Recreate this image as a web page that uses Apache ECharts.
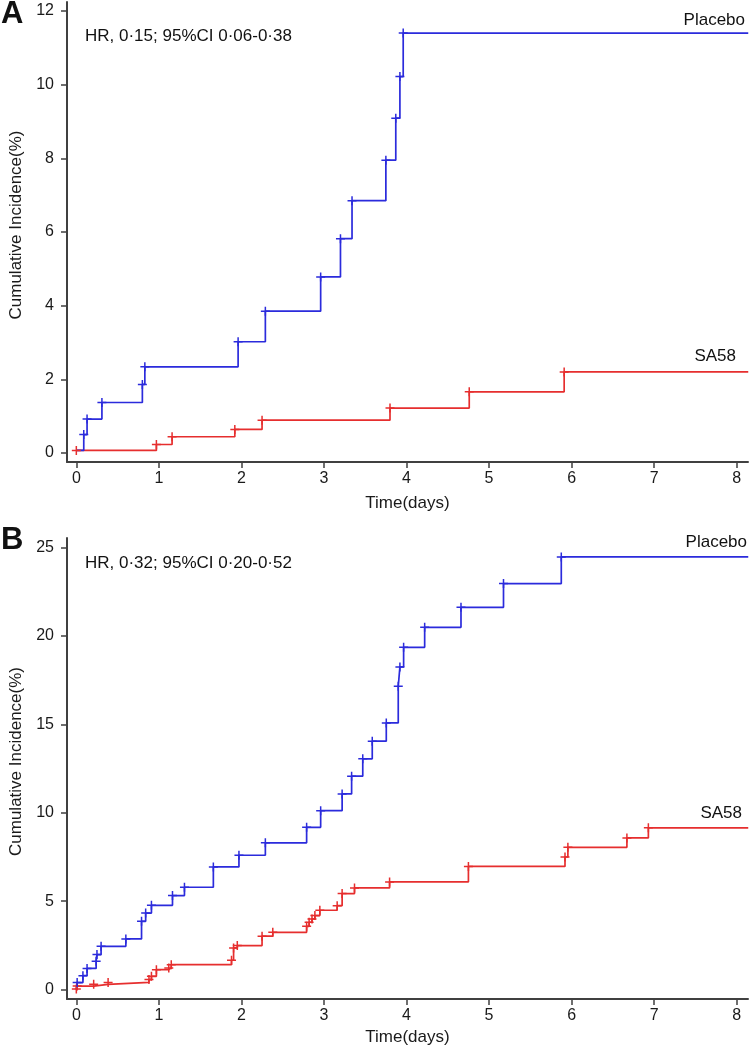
<!DOCTYPE html>
<html>
<head>
<meta charset="utf-8">
<script src="https://cdn.jsdelivr.net/npm/echarts@6/dist/echarts.min.js"></script>
<style>
  html, body { margin: 0; padding: 0; background: #fff; }
  #chart { width: 750px; height: 1047px; }
</style>
</head>
<body>
<div id="chart"></div>
<script>
// tick labels
const xTicks = [0, 1, 2, 3, 4, 5, 6, 7, 8];
const yTicksA = [0, 2, 4, 6, 8, 10, 12];
const yTicksB = [0, 5, 10, 15, 20, 25];

// panel A, [time(days), cumulative incidence %]
const placeboA = [[0, 0.07], [0.09, 0.5], [0.13, 0.92], [0.31, 1.37], [0.8, 1.86], [0.83, 2.34], [1.96, 3.02], [2.29, 3.85], [2.96, 4.78], [3.2, 5.82], [3.34, 6.85], [3.75, 7.95], [3.87, 9.09], [3.92, 10.22], [3.96, 11.4], [8.14, 11.4]];
const sa58A = [[0, 0.07], [0.97, 0.23], [1.16, 0.44], [1.92, 0.64], [2.25, 0.89], [3.8, 1.22], [4.76, 1.66], [5.91, 2.2], [8.14, 2.2]];

// panel B
const placeboB = [[0, 0], [0.01, 0.4], [0.08, 0.79], [0.13, 1.2], [0.24, 1.6], [0.25, 1.98], [0.3, 2.45], [0.6, 2.87], [0.79, 3.86], [0.84, 4.33], [0.91, 4.77], [1.165, 5.32], [1.31, 5.79], [1.66, 6.94], [1.97, 7.6], [2.29, 8.3], [2.79, 9.18], [2.96, 10.12], [3.22, 11.07], [3.335, 12.07], [3.47, 13.05], [3.585, 14.05], [3.755, 15.08], [3.9, 17.16], [3.92, 18.25], [3.965, 19.36], [4.22, 20.49], [4.66, 21.62], [5.175, 22.96], [5.875, 24.47], [8.14, 24.47]];
const sa58B = [[0, 0.04], [0.01, 0.2], [0.21, 0.3], [0.385, 0.41], [0.88, 0.57], [0.91, 0.75], [0.97, 1.13], [1.12, 1.23], [1.15, 1.41], [1.88, 1.66], [1.905, 2.36], [1.95, 2.49], [2.25, 3.02], [2.38, 3.24], [2.79, 3.58], [2.82, 3.81], [2.855, 4.0], [2.89, 4.19], [2.95, 4.49], [3.16, 4.75], [3.22, 5.43], [3.37, 5.75], [3.795, 6.09], [4.75, 6.97], [5.92, 7.5], [5.955, 8.05], [6.67, 8.58], [6.93, 9.15], [8.14, 9.15]];

const BLUE = '#2b2bdc';
const RED = '#e62e2e';
const AXIS = '#404040';
const FONT = '"Liberation Sans", Arial, sans-serif';
const PLUS = 'path://M5,0L5,10M0,5L10,5';

function marks(data, noFirst) {
  return data.map(function (p, i) {
    if (i === data.length - 1 || (noFirst && i === 0)) {
      return { value: p, symbol: 'none' };
    }
    return p;
  });
}

function kmSeries(data, color, idx, noFirst) {
  return {
    type: 'line',
    step: 'end',
    xAxisIndex: idx,
    yAxisIndex: idx,
    data: marks(data, noFirst),
    showSymbol: true,
    symbol: PLUS,
    symbolSize: 9,
    lineStyle: { color: color, width: 1.7 },
    itemStyle: { color: 'transparent', borderColor: color, borderWidth: 1.5 },
    emphasis: { disabled: true }
  };
}

function xAxisCfg(idx, gap) {
  return {
    type: 'value',
    gridIndex: idx,
    min: -0.113,
    max: 8.137,
    name: 'Time(days)',
    nameLocation: 'middle',
    nameGap: gap,
    nameTextStyle: { fontFamily: FONT, fontSize: 17, color: '#1a1a1a' },
    splitLine: { show: false },
    axisLine: { onZero: false, lineStyle: { color: AXIS, width: 2 } },
    axisTick: { length: 6, customValues: xTicks, lineStyle: { color: AXIS, width: 1.5 } },
    axisLabel: { customValues: xTicks, margin: 9, fontFamily: FONT, fontSize: 16, color: '#1a1a1a' }
  };
}

function yAxisCfg(idx, min, max, ticks) {
  return {
    type: 'value',
    gridIndex: idx,
    min: min,
    max: max,
    name: 'Cumulative Incidence(%)',
    nameLocation: 'middle',
    nameGap: 40,
    nameTextStyle: { fontFamily: FONT, fontSize: 17, color: '#1a1a1a', padding: [0, 0, 0, 14] },
    splitLine: { show: false },
    axisLine: { show: true, onZero: false, lineStyle: { color: AXIS, width: 2 } },
    axisTick: { show: true, length: 6, customValues: ticks, lineStyle: { color: AXIS, width: 1.5 } },
    axisLabel: { customValues: ticks, margin: 13, fontFamily: FONT, fontSize: 16, color: '#1a1a1a' }
  };
}

function label(text, pos, size, bold) {
  return Object.assign({
    type: 'text',
    style: {
      text: text,
      font: (bold ? 'bold ' : '') + size + 'px ' + FONT,
      fill: '#111'
    }
  }, pos);
}

var chart = echarts.init(document.getElementById('chart'));
chart.setOption({
  animation: false,
  grid: [
    { left: 67, right: 2, top: 2, height: 460 },
    { left: 67, right: 2, top: 538, height: 461 }
  ],
  xAxis: [xAxisCfg(0, 33), xAxisCfg(1, 30)],
  yAxis: [yAxisCfg(0, -0.245, 12.245, yTicksA), yAxisCfg(1, -0.53, 25.54, yTicksB)],
  series: [
    kmSeries(sa58A, RED, 0, false),
    kmSeries(placeboA, BLUE, 0, true),
    kmSeries(sa58B, RED, 1, false),
    kmSeries(placeboB, BLUE, 1, true)
  ],
  graphic: [
    label('A', { left: 1, top: -1 }, 31, true),
    label('B', { left: 1, top: 525 }, 31, true),
    label('HR, 0·15; 95%CI 0·06-0·38', { left: 85, top: 28 }, 17),
    label('HR, 0·32; 95%CI 0·20-0·52', { left: 85, top: 555 }, 17),
    label('Placebo', { right: 5, top: 12 }, 17),
    label('SA58', { right: 14, top: 348 }, 17),
    label('Placebo', { right: 3, top: 534 }, 17),
    label('SA58', { right: 8, top: 805 }, 17)
  ]
});
</script>
</body>
</html>
